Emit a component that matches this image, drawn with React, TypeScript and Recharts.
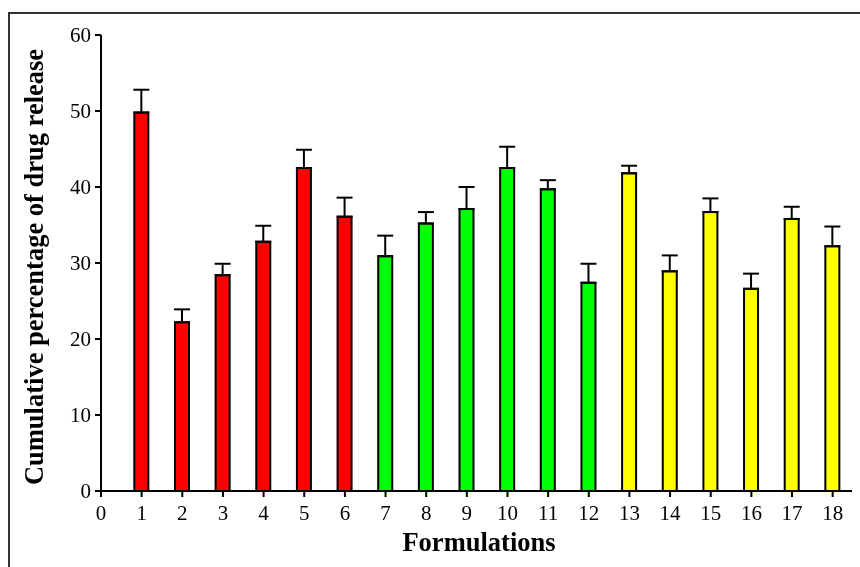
import React from "react";
import { BarChart, Bar, XAxis, YAxis, Cell, ErrorBar } from "recharts";

const formulations = [1, 2, 3, 4, 5, 6, 7, 8, 9, 10, 11, 12, 13, 14, 15, 16, 17, 18];
const release = [49.8, 22.2, 28.4, 32.8, 42.5, 36.1, 30.9, 35.2, 37.1, 42.5, 39.7, 27.4, 41.8, 28.9, 36.7, 26.6, 35.8, 32.2];
const sdUpper = [3.0, 1.7, 1.5, 2.1, 2.4, 2.5, 2.7, 1.5, 2.9, 2.8, 1.2, 2.5, 1.0, 2.1, 1.8, 2.0, 1.6, 2.6];
const groupColors = ["#FF0000", "#00FF00", "#FFFF00"];
const group = [0, 0, 0, 0, 0, 0, 1, 1, 1, 1, 1, 1, 2, 2, 2, 2, 2, 2];
const xTicks = [0, 1, 2, 3, 4, 5, 6, 7, 8, 9, 10, 11, 12, 13, 14, 15, 16, 17, 18];
const yTicks = [0, 10, 20, 30, 40, 50, 60];

const data = formulations.map((f, i) => ({
  f,
  value: release[i],
  err: [0, sdUpper[i]],
}));

const FONT = "'Times New Roman', 'Liberation Serif', serif";

export default function App() {
  return (
    <div style={{ position: "relative", width: 852, height: 551 }}>
      <div
        style={{
          position: "fixed",
          left: 8,
          top: 12,
          width: 1000,
          height: 1000,
          border: "2px solid #333",
          boxSizing: "border-box",
          pointerEvents: "none",
        }}
      />
      <div style={{ position: "absolute", left: 0, top: 0 }}>
        <BarChart
          width={852}
          height={551}
          data={data}
          margin={{ top: 27, right: 7, bottom: 16, left: 10 }}
        >
          <XAxis
            dataKey="f"
            type="number"
            domain={[0, 18.5]}
            ticks={xTicks}
            interval={0}
            height={52}
            axisLine={{ stroke: "#000", strokeWidth: 2 }}
            tickLine={{ stroke: "#000", strokeWidth: 2 }}
            tickSize={6}
            tickMargin={8}
            tick={{ fill: "#000", fontSize: 21, fontFamily: FONT }}
            allowDataOverflow
            label={{
              content: () => (
                <text
                  x={471}
                  y={543}
                  textAnchor="middle"
                  fontFamily={FONT}
                  fontWeight="bold"
                  fontSize={26.5}
                  fill="#000"
                >
                  Formulations
                </text>
              ),
            }}
          />
          <YAxis
            type="number"
            domain={[0, 60]}
            ticks={yTicks}
            interval={0}
            width={83}
            axisLine={{ stroke: "#000", strokeWidth: 2 }}
            tickLine={{ stroke: "#000", strokeWidth: 2 }}
            tickSize={6}
            tickMargin={4}
            tick={{ fill: "#000", fontSize: 21, fontFamily: FONT }}
            allowDataOverflow
            label={{
              content: () => (
                <text
                  x={35}
                  y={259}
                  transform="rotate(-90 35 259)"
                  textAnchor="middle"
                  fontFamily={FONT}
                  fontWeight="bold"
                  fontSize={26.5}
                  fill="#000"
                >
                  Cumulative percentage of drug release
                </text>
              ),
            }}
          />
          <Bar
            dataKey="value"
            barSize={14}
            stroke="#000"
            strokeWidth={2}
            isAnimationActive={false}
          >
            {data.map((d, i) => (
              <Cell key={d.f} fill={groupColors[group[i]]} />
            ))}
            <ErrorBar
              dataKey="err"
              direction="y"
              width={8}
              stroke="#000"
              strokeWidth={2}
              isAnimationActive={false}
            />
          </Bar>
        </BarChart>
      </div>
    </div>
  );
}
